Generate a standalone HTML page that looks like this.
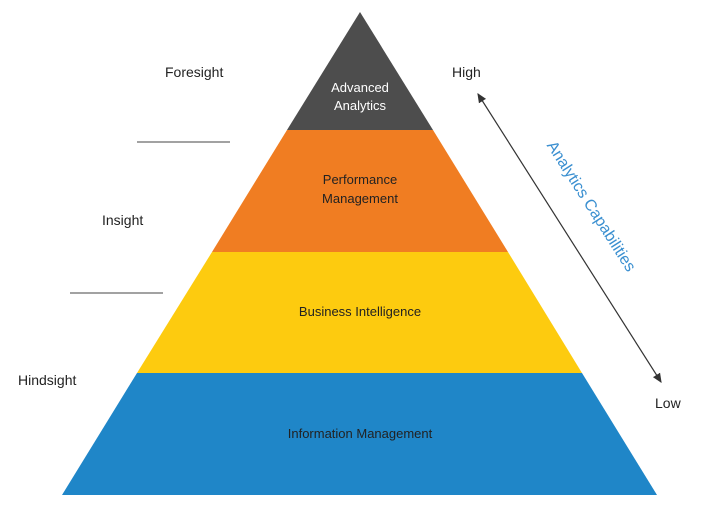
<!DOCTYPE html>
<html><head><style>
body{margin:0;width:704px;height:508px;background:#fff;overflow:hidden}
text{font-family:"Liberation Sans",sans-serif}
</style></head><body>
<svg width="704" height="508" viewBox="0 0 704 508">
<defs><marker id="a" markerWidth="8" markerHeight="8" refX="7" refY="4" orient="auto-start-reverse"><path d="M0,0.5 L8,4 L0,7.5z" fill="#333"/></marker></defs>
<polygon points="360,12 287,130 433,130" fill="#4d4d4d"/>
<polygon points="287,130 433,130 508,252 212,252" fill="#f07d22"/>
<polygon points="212,252 508,252 582,373 137,373" fill="#fdcb0f"/>
<polygon points="137,373 582,373 657,495 62,495" fill="#1f86c8"/>
<g font-size="13" text-anchor="middle" fill="#222">
<text x="360" y="92" fill="#fff">Advanced</text>
<text x="360" y="110" fill="#fff">Analytics</text>
<text x="360" y="184">Performance</text>
<text x="360" y="203">Management</text>
<text x="360" y="316">Business Intelligence</text>
<text x="360" y="438">Information Management</text>
</g>
<g font-size="14" fill="#222">
<text x="165" y="77">Foresight</text>
<text x="102" y="225">Insight</text>
<text x="18" y="385">Hindsight</text>
<text x="452" y="77">High</text>
<text x="655" y="408">Low</text>
</g>
<line x1="137" y1="142" x2="230" y2="142" stroke="#444" stroke-width="1"/>
<line x1="70" y1="293" x2="163" y2="293" stroke="#444" stroke-width="1"/>
<line x1="478" y1="94" x2="661" y2="382" stroke="#333" stroke-width="1.2" marker-start="url(#a)" marker-end="url(#a)"/>
<text x="0" y="0" font-size="16" fill="#3a8fd0" text-anchor="middle" transform="translate(587,209) rotate(57.5)">Analytics Capabilities</text>
</svg>
</body></html>
